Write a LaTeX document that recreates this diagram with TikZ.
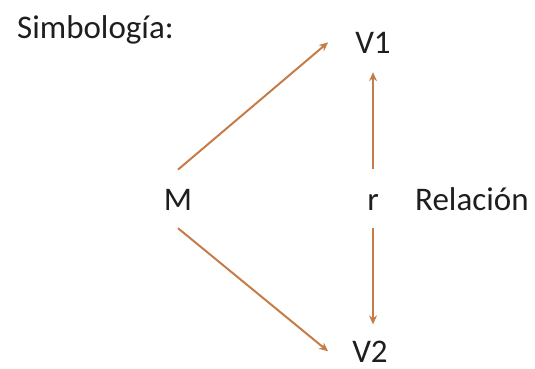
\documentclass[tikz,border=0pt]{standalone}
\usepackage{fontspec}
\setmainfont{Carlito}
\usepackage{tikz}
\usetikzlibrary{arrows.meta}
\definecolor{flecha}{RGB}{198,124,72}
\definecolor{texto}{RGB}{30,30,30}

\begin{document}
\begin{tikzpicture}[x=1pt,y=-1pt,
    lbl/.style={inner sep=0pt,text=texto,font=\fontsize{33}{40}\selectfont},
    arr/.style={draw=flecha,line width=2pt,-{Stealth[length=9pt,width=8pt]}}]
  \useasboundingbox (0,0) rectangle (535,369);
  \node[lbl,anchor=base west] (simb) at (17,39) {Simbología:};
  \node[lbl,anchor=base] (M) at (178,210) {M};
  \node[lbl,anchor=base] (r) at (373,210) {r};
  \node[lbl,anchor=base west] (rel) at (415,210) {Relación};
  \node[lbl,anchor=base] (V1) at (373,53) {V1};
  \node[lbl,anchor=base] (V2) at (370,362) {V2};
  \draw[arr] ([yshift=19pt]M.north) -- ([xshift=-27pt]V1.west);
  \draw[arr] ([yshift=-18pt]M.south) -- ([xshift=-24pt]V2.west);
  \draw[arr,shorten <=25pt,shorten >=19pt] (r.north) -- (V1.south);
  \draw[arr,shorten <=18pt,shorten >=16pt] (r.south) -- (r |- V2.north);
\end{tikzpicture}
\end{document}
